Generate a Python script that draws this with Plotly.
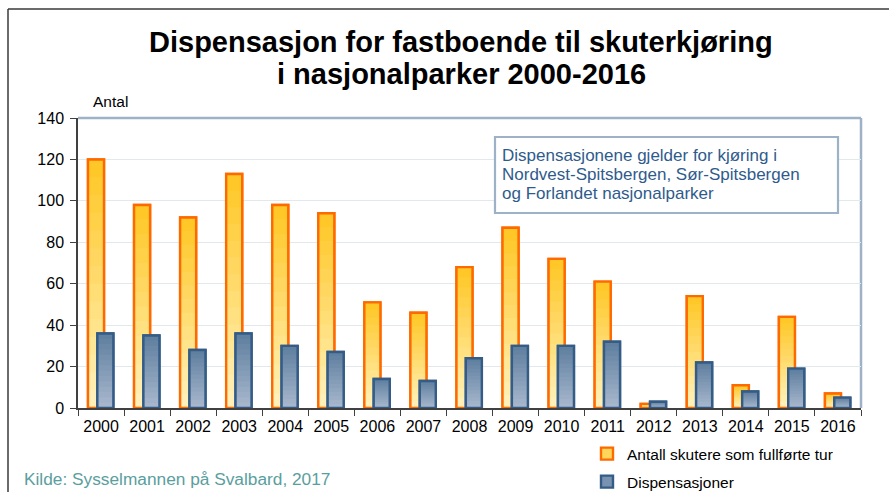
import plotly.graph_objects as go

years = [str(y) for y in range(2000, 2017)]
skutere = [120, 98, 92, 113, 98, 94, 51, 46, 68, 87, 72, 61, 2, 54, 11, 44, 7]
dispensasjoner = [36, 35, 28, 36, 30, 27, 14, 13, 24, 30, 30, 32, 3, 22, 8, 19, 5]
y_ticks = [0, 20, 40, 60, 80, 100, 120, 140]
title_lines = ["Dispensasjon for fastboende til skuterkjøring", "i nasjonalparker 2000-2016"]
info_lines = ["Dispensasjonene gjelder for kjøring i",
              "Nordvest-Spitsbergen, Sør-Spitsbergen",
              "og Forlandet nasjonalparker"]

W, H = 889, 492
L, R, T, B = 78, 861, 118, 408
FONT = "Arial, Liberation Sans, sans-serif"


def px_x(px):
    return (px - L) / (R - L)


def px_y(py):
    return (B - py) / (B - T)


def lerp(c1, c2, t):
    return "rgb(%d,%d,%d)" % tuple(round(a + (b - a) * t) for a, b in zip(c1, c2))


fig = go.Figure()

N = 14
BAR_W = 0.348


def add_series(name, values, offset, line_color, top_rgb, bottom_rgb, legend_name):
    fig.add_trace(go.Bar(
        x=years, y=values, name=name, offset=offset, width=BAR_W,
        marker=dict(color=lerp(top_rgb, bottom_rgb, 0.35), line=dict(color=line_color, width=2.4)),
        legend=legend_name, showlegend=True, hoverinfo="skip",
    ))
    for i in range(N):
        k = 1 - i / N
        fig.add_trace(go.Bar(
            x=years, y=[v * k for v in values], offset=offset, width=BAR_W,
            marker=dict(color=lerp(top_rgb, bottom_rgb, i / (N - 1)), line=dict(width=0)),
            showlegend=False, hoverinfo="skip",
        ))
    fig.add_trace(go.Bar(
        x=years, y=values, offset=offset, width=BAR_W,
        marker=dict(color="rgba(0,0,0,0)", line=dict(color=line_color, width=2.4)),
        showlegend=False, hoverinfo="skip",
    ))


add_series("Antall skutere som fullførte tur", skutere, -0.283, "#FF6A00",
           (255, 200, 40), (255, 240, 185), "legend")
add_series("Dispensasjoner", dispensasjoner, -0.08, "#345C86",
           (96, 128, 160), (166, 182, 204), "legend2")

shapes = [
    dict(type="line", xref="paper", yref="paper", x0=0, x1=1, y0=1, y1=1,
         line=dict(color="#9DB2C7", width=2.5), layer="below"),
    dict(type="line", xref="paper", yref="paper", x0=1, x1=1, y0=0, y1=1,
         line=dict(color="#9DB2C7", width=2.5), layer="below"),
    dict(type="line", xref="paper", yref="paper", x0=px_x(8), x1=px_x(W + 5), y0=px_y(9), y1=px_y(9),
         line=dict(color="#3A3A3A", width=1.5)),
    dict(type="line", xref="paper", yref="paper", x0=px_x(8), x1=px_x(8), y0=px_y(9), y1=px_y(H + 5),
         line=dict(color="#3A3A3A", width=1.5)),
    dict(type="rect", xref="paper", yref="paper", x0=px_x(495), x1=px_x(838), y0=px_y(137), y1=px_y(213),
         line=dict(color="#9DB2C7", width=2.2), fillcolor="white"),
]

annotations = []
for txt, yc in zip(title_lines, [42, 74]):
    annotations.append(dict(text="<b>%s</b>" % txt, xref="paper", yref="paper",
                            x=px_x(461), y=px_y(yc), xanchor="center", yanchor="middle",
                            showarrow=False, font=dict(family=FONT, size=29, color="black")))
for txt, yc in zip(info_lines, [155, 174.5, 193.5]):
    annotations.append(dict(text=txt, xref="paper", yref="paper", x=px_x(500), y=px_y(yc),
                            xanchor="left", yanchor="middle", align="left", showarrow=False,
                            font=dict(family=FONT, size=17, color="#2F5B8C")))
annotations += [
    dict(text="Antal", xref="paper", yref="paper", x=px_x(91), y=px_y(101), xanchor="left", yanchor="middle",
         showarrow=False, font=dict(family=FONT, size=15.5, color="black")),
    dict(text="Kilde: Sysselmannen på Svalbard, 2017", xref="paper", yref="paper",
         x=px_x(22), y=px_y(479), xanchor="left", yanchor="middle", showarrow=False,
         font=dict(family=FONT, size=17.3, color="#5A9E9E")),
]

fig.update_layout(
    width=W, height=H,
    margin=dict(l=L, r=W - R, t=T, b=H - B, pad=0, autoexpand=False),
    paper_bgcolor="white", plot_bgcolor="white",
    barmode="overlay",
    font=dict(family=FONT, size=16, color="black"),
    shapes=shapes,
    annotations=annotations,
    legend=dict(xref="container", yref="container", x=587 / W, y=(H - 454) / H,
                xanchor="left", yanchor="middle",
                font=dict(family=FONT, size=15.5, color="black"), bgcolor="rgba(0,0,0,0)"),
    legend2=dict(xref="container", yref="container", x=587 / W, y=(H - 482) / H,
                 xanchor="left", yanchor="middle",
                 font=dict(family=FONT, size=15.5, color="black"), bgcolor="rgba(0,0,0,0)"),
    xaxis=dict(type="category", categoryorder="array", categoryarray=years,
               range=[-0.5, len(years) - 0.5],
               showline=True, linecolor="#404040", linewidth=1.5,
               ticks="outside", tickson="boundaries", ticklen=6, tickcolor="#404040", tickwidth=1.2,
               ticklabelstandoff=3,
               showgrid=False, tickfont=dict(family=FONT, size=16, color="black"), fixedrange=True),
    yaxis=dict(range=[0, 140], tickvals=y_ticks, ticktext=[str(v) for v in y_ticks],
               showline=True, linecolor="#404040", linewidth=1.5,
               ticks="outside", ticklen=6, tickcolor="#404040", tickwidth=1.2,
               ticklabelstandoff=3,
               showgrid=True, gridcolor="#E1E9EC", gridwidth=1, zeroline=False,
               tickfont=dict(family=FONT, size=16, color="black"), fixedrange=True),
)

fig.write_html("out.html", config={"displayModeBar": False},
               post_script="document.body.style.margin='0';document.body.style.overflow='hidden';")
